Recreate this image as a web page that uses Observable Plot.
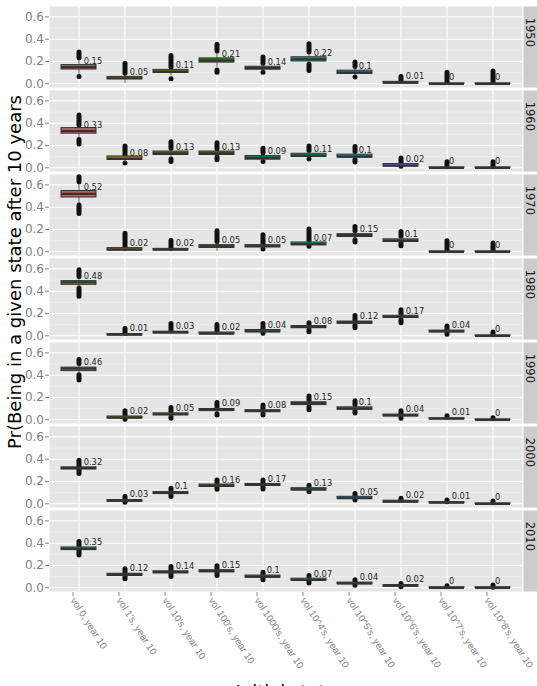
<!DOCTYPE html>
<html>
<head>
<meta charset="utf-8">
<script src="https://cdn.jsdelivr.net/npm/d3@7"></script>
<script src="https://cdn.jsdelivr.net/npm/@observablehq/plot@0.6"></script>
<style>
html, body { margin: 0; padding: 0; background: #fff; overflow: hidden; width: 537px; height: 686px; }
</style>
</head>
<body>
<div id="chart"></div>
<script>
const years = [1950, 1960, 1970, 1980, 1990, 2000, 2010];
const classes = ["vol 0, year 10", "vol 1's, year 10", "vol 10's, year 10", "vol 100's, year 10", "vol 1000's, year 10",
  "vol 10^4's, year 10", "vol 10^5's, year 10", "vol 10^6's, year 10", "vol 10^7's, year 10", "vol 10^8's, year 10"];
const palette = ["#F8766D", "#D89000", "#A3A500", "#39B600", "#00BF7D", "#00BFC4", "#00B0F6", "#9590FF", "#E76BF3", "#FF62BC"];
const yTicks = [0, 0.2, 0.4, 0.6];
const yMinor = [0.1, 0.3, 0.5];

// medians (also the printed labels)
const medians = [
  [0.15, 0.05, 0.11, 0.21, 0.14, 0.22, 0.1, 0.01, 0, 0],
  [0.33, 0.08, 0.13, 0.13, 0.09, 0.11, 0.1, 0.02, 0, 0],
  [0.52, 0.02, 0.02, 0.05, 0.05, 0.07, 0.15, 0.1, 0, 0],
  [0.48, 0.01, 0.03, 0.02, 0.04, 0.08, 0.12, 0.17, 0.04, 0],
  [0.46, 0.02, 0.05, 0.09, 0.08, 0.15, 0.1, 0.04, 0.01, 0],
  [0.32, 0.03, 0.1, 0.16, 0.17, 0.13, 0.05, 0.02, 0.01, 0],
  [0.35, 0.12, 0.14, 0.15, 0.1, 0.07, 0.04, 0.02, 0, 0]
];
const q1s = [
  [0.128, 0.04, 0.097, 0.19, 0.127, 0.2, 0.088, 0.002, 0, 0],
  [0.306, 0.071, 0.115, 0.115, 0.073, 0.098, 0.092, 0.013, 0, 0],
  [0.487, 0.013, 0.013, 0.035, 0.04, 0.057, 0.133, 0.088, 0, 0],
  [0.457, 0.004, 0.022, 0.014, 0.033, 0.068, 0.108, 0.16, 0.032, 0],
  [0.437, 0.013, 0.04, 0.078, 0.068, 0.132, 0.09, 0.031, 0.004, 0],
  [0.308, 0.018, 0.087, 0.154, 0.16, 0.12, 0.046, 0.012, 0.005, 0],
  [0.338, 0.106, 0.13, 0.14, 0.09, 0.064, 0.032, 0.01, 0, 0]
];
const q3s = [
  [0.168, 0.062, 0.125, 0.228, 0.153, 0.238, 0.118, 0.018, 0.004, 0.004],
  [0.356, 0.102, 0.146, 0.146, 0.106, 0.126, 0.118, 0.034, 0.004, 0.004],
  [0.545, 0.033, 0.027, 0.06, 0.06, 0.084, 0.158, 0.112, 0.004, 0.004],
  [0.49, 0.016, 0.037, 0.03, 0.052, 0.088, 0.128, 0.18, 0.047, 0.004],
  [0.468, 0.03, 0.058, 0.097, 0.086, 0.157, 0.112, 0.047, 0.014, 0.004],
  [0.327, 0.034, 0.105, 0.173, 0.178, 0.14, 0.063, 0.028, 0.015, 0.004],
  [0.362, 0.126, 0.148, 0.158, 0.11, 0.082, 0.047, 0.025, 0.005, 0.005]
];
const whiskerLo = [
  [0.085, 0.005, 0.07, 0.15, 0.11, 0.18, 0.07, 0, 0, 0],
  [0.26, 0.045, 0.085, 0.09, 0.06, 0.08, 0.07, 0.005, 0, 0],
  [0.43, 0, 0, 0.005, 0.025, 0.05, 0.11, 0.075, 0, 0],
  [0.43, 0, 0.01, 0.005, 0.02, 0.05, 0.09, 0.14, 0.015, 0],
  [0.41, 0, 0.02, 0.05, 0.04, 0.1, 0.07, 0.015, 0, 0],
  [0.28, 0.005, 0.07, 0.13, 0.135, 0.105, 0.03, 0.003, 0, 0],
  [0.30, 0.08, 0.1, 0.11, 0.07, 0.045, 0.02, 0, 0, 0]
];
const whiskerHi = [
  [0.22, 0.09, 0.145, 0.28, 0.18, 0.28, 0.15, 0.03, 0.012, 0.012],
  [0.40, 0.12, 0.17, 0.17, 0.13, 0.15, 0.14, 0.04, 0.01, 0.01],
  [0.61, 0.045, 0.03, 0.09, 0.065, 0.10, 0.18, 0.135, 0.015, 0.01],
  [0.52, 0.02, 0.05, 0.045, 0.07, 0.1, 0.15, 0.2, 0.065, 0.01],
  [0.49, 0.05, 0.08, 0.12, 0.11, 0.18, 0.14, 0.06, 0.025, 0.01],
  [0.35, 0.045, 0.12, 0.19, 0.2, 0.155, 0.08, 0.04, 0.02, 0.01],
  [0.40, 0.155, 0.18, 0.185, 0.13, 0.1, 0.06, 0.03, 0.01, 0.01]
];
// extent of the dense clusters of outlying points [from, to]
const outHigh = [
  [[0.23, 0.28], [0.09, 0.18], [0.145, 0.25], [0.29, 0.35], [0.18, 0.235], [0.28, 0.354], [0.15, 0.19], [0.027, 0.062], [0.012, 0.10], [0.012, 0.11]],
  [[0.38, 0.47], [0.113, 0.19], [0.17, 0.23], [0.166, 0.22], [0.13, 0.17], [0.15, 0.19], [0.142, 0.187], [0.039, 0.083], [0.005, 0.05], [0.005, 0.05]],
  [[0.623, 0.668], [0.045, 0.163], [0.03, 0.098], [0.089, 0.184], [0.06, 0.148], [0.098, 0.2], [0.184, 0.223], [0.134, 0.178], [0.015, 0.095], [0.01, 0.074]],
  [[0.528, 0.587], [0.018, 0.06], [0.047, 0.107], [0.039, 0.098], [0.06, 0.107], [0.09, 0.113], [0.135, 0.178], [0.19, 0.23], [0.055, 0.083], [0.005, 0.03]],
  [[0.50, 0.537], [0.04, 0.077], [0.07, 0.107], [0.11, 0.15], [0.1, 0.128], [0.17, 0.21], [0.13, 0.166], [0.05, 0.077], [0.02, 0.033], [0.005, 0.015]],
  [[0.33, 0.386], [0.04, 0.06], [0.11, 0.134], [0.18, 0.208], [0.18, 0.208], [0.15, 0.163], [0.07, 0.089], [0.03, 0.045], [0.015, 0.03], [0.005, 0.02]],
  [[0.37, 0.41], [0.13, 0.166], [0.15, 0.187], [0.16, 0.193], [0.11, 0.136], [0.085, 0.107], [0.05, 0.068], [0.025, 0.035], [0.005, 0.015], [0.005, 0.02]]
];
const outLow = [
  [[0.062, 0.062], null, [0.04, 0.04], [0.10, 0.12], [0.10, 0.10], [0.116, 0.17], [0.056, 0.056], null, null, null],
  [[0.21, 0.25], [0.039, 0.039], [0.053, 0.074], [0.068, 0.092], [0.053, 0.053], [0.074, 0.074], [0.047, 0.068], [0.01, 0.01], null, null],
  [[0.34, 0.415], null, null, null, [0.02, 0.02], [0.045, 0.045], [0.083, 0.104], [0.05, 0.074], null, null],
  [[0.35, 0.424], null, null, null, [0.018, 0.03], [0.033, 0.05], [0.068, 0.09], [0.113, 0.14], [0.01, 0.02], null],
  [[0.353, 0.40], [0, 0.005], [0.009, 0.02], [0.039, 0.05], [0.039, 0.05], [0.086, 0.11], [0.056, 0.075], [0.009, 0.015], null, null],
  [[0.267, 0.30], [0.01, 0.015], [0.06, 0.08], [0.125, 0.15], [0.128, 0.15], [0.104, 0.115], [0.03, 0.04], null, null, null],
  [[0.29, 0.33], [0.077, 0.1], [0.098, 0.125], [0.107, 0.135], [0.068, 0.085], [0.039, 0.06], [0.018, 0.03], [0.005, 0.01], null, [0, 0.003]]
];

const rows = [];
const blobs = [];
years.forEach((year, i) => classes.forEach((cls, j) => {
  rows.push({year, cls, med: medians[i][j], q1: q1s[i][j], q3: q3s[i][j], wlo: whiskerLo[i][j], whi: whiskerHi[i][j], label: String(medians[i][j])});
  for (const b of [outHigh[i][j], outLow[i][j]]) if (b) blobs.push({year, cls, y1: b[0], y2: b[1]});
}));

const labelSize = 8.3;
const labelWidth = (s) => labelSize * (0.636 * s.replace(".", "").length + (s.includes(".") ? 0.318 : 0));
const lengths = Array.from(new Set(rows.map(d => d.label.length)));
const labelMarks = lengths.map(n => {
  const sub = rows.filter(d => d.label.length === n);
  return Plot.text(sub, {fy: "year", x: "cls", y: "med", text: "label", textAnchor: "start",
    dx: 1 + 0.2 * labelWidth(sub[0].label), dy: -6, fontSize: labelSize, fill: "#262626"});
});

const boxPalette = palette.map(c => d3.interpolateRgb(c, "#303030")(0.3));

const panelW = 537 - 49 - 15;
const chart = Plot.plot({
  width: 537, height: 700,
  marginTop: 5, marginBottom: 107, marginLeft: 49, marginRight: 15,
  style: {fontFamily: "DejaVu Sans", background: "white", overflow: "visible"},
  x: {type: "band", domain: classes, paddingInner: 0.25, paddingOuter: 0.225, align: 0.5},
  y: {domain: [-0.033, 0.693]},
  fy: {domain: years, paddingInner: 0.0355, paddingOuter: 0, axis: null, label: null},
  color: {domain: classes, range: boxPalette},
  marks: [
    Plot.frame({fill: "#e5e5e5"}),
    Plot.gridY(yMinor, {stroke: "#f2f2f2", strokeOpacity: 1, strokeWidth: 0.6}),
    Plot.gridY(yTicks, {stroke: "#ffffff", strokeOpacity: 1, strokeWidth: 1.1}),
    Plot.gridX(classes, {stroke: "#ffffff", strokeOpacity: 1, strokeWidth: 1.1}),
    Plot.frame({fill: "#cccccc", insetLeft: panelW + 1, insetRight: -15}),
    Plot.text(years, {fy: d => d, text: d => String(d), frameAnchor: "right", dx: 7, rotate: 90, fontSize: 11.5, fill: "#1a1a1a"}),
    Plot.axisY({ticks: yTicks, tickFormat: d3.format(".1f"), tickSize: 4, tickPadding: 1.5, fontSize: 12, color: "#808080", label: null}),
    Plot.axisX({tickRotate: 57.5, tickSize: 4, tickPadding: 2, dx: -6, dy: 1, fontSize: 9.8, fontFamily: "Liberation Sans", color: "#858585", label: null}),
    Plot.ruleX(blobs, {fy: "year", x: "cls", y1: "y1", y2: "y2", stroke: "#111111", strokeWidth: 5, strokeLinecap: "round"}),
    Plot.ruleX(rows, {fy: "year", x: "cls", y1: "wlo", y2: "whi", stroke: "#333333", strokeWidth: 0.8}),
    Plot.barY(rows, {fy: "year", x: "cls", y1: "q1", y2: "q3", fill: "cls", stroke: "#333333", strokeWidth: 1}),
    Plot.tickY(rows, {fy: "year", x: "cls", y: "med", stroke: "#333333", strokeWidth: 2.2}),
    ...labelMarks
  ]
});

const svg = d3.select(chart);
svg.append("text")
  .attr("transform", "translate(20.5,272) rotate(-90)")
  .attr("text-anchor", "middle")
  .attr("font-family", "DejaVu Sans")
  .attr("font-size", 18)
  .attr("fill", "#000")
  .text("Pr(Being in a given state after 10 years");
svg.append("text")
  .attr("x", 286).attr("y", 698)
  .attr("text-anchor", "middle")
  .attr("font-family", "DejaVu Sans")
  .attr("font-size", 18)
  .attr("fill", "#000")
  .text("Initial state");

document.getElementById("chart").appendChild(chart);
</script>
</body>
</html>
